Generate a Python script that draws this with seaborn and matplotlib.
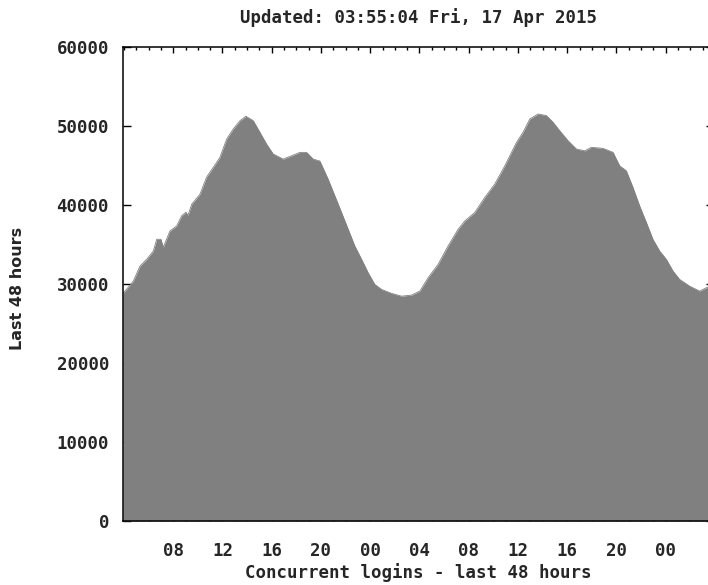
import numpy as np
import pandas as pd
import matplotlib
matplotlib.use("Agg")
import matplotlib.pyplot as plt
import seaborn as sns

# hours counted from midnight of the first day (window 03:55 -> 03:55, 48 h)
hours = [3.92, 4.08, 4.76, 5.30, 5.84, 6.38, 6.66, 7.00, 7.19, 7.73, 8.28, 8.68,
         9.03, 9.20, 9.50, 10.17, 10.71, 11.25, 11.79, 12.34, 12.87, 13.42, 13.90,
         14.50, 15.04, 15.58, 16.12, 16.93, 17.48, 18.29, 18.83, 19.37, 19.91,
         20.58, 21.13, 21.67, 22.21, 22.75, 23.30, 23.83, 24.37, 24.92, 25.73,
         26.54, 27.35, 28.03, 28.70, 29.51, 30.32, 31.14, 31.68, 32.49, 33.30,
         34.11, 34.93, 35.88, 36.41, 36.96, 37.63, 38.31, 38.85, 39.39, 40.07,
         40.75, 41.42, 41.96, 42.91, 43.72, 44.26, 44.80, 45.34, 45.88, 46.43,
         46.96, 47.51, 48.05, 48.59, 49.13, 49.94, 50.75, 51.30, 51.92]
logins = [28900, 29100, 30370, 32270, 33120, 34170, 35660, 35660, 34640, 36710,
          37350, 38620, 39090, 38700, 40100, 41370, 43530, 44760, 46030, 48350,
          49620, 50670, 51230, 50670, 49200, 47710, 46450, 45810, 46150, 46660,
          46660, 45810, 45560, 43270, 41150, 39050, 36930, 34810, 33120, 31430,
          29950, 29310, 28810, 28460, 28590, 29100, 30800, 32490, 34810, 36930,
          37980, 39050, 40950, 42640, 44960, 47930, 49200, 50890, 51520, 51310,
          50470, 49400, 48130, 47080, 46860, 47300, 47170, 46660, 44960, 44330,
          42220, 39890, 37780, 35660, 34170, 33120, 31640, 30580, 29730, 29100,
          29530, 29900]
tick_hours = [8, 12, 16, 20, 24, 28, 32, 36, 40, 44, 48]
tick_labels = ["08", "12", "16", "20", "00", "04", "08", "12", "16", "20", "00"]
y_ticks = [0, 10000, 20000, 30000, 40000, 50000, 60000]

df = pd.DataFrame({"hour": hours, "logins": logins})

sns.set_theme(style="ticks")
mono = "DejaVu Sans Mono"
plt.rcParams["font.family"] = [mono]

fig = plt.figure(figsize=(7.08, 5.85), dpi=100)
ax = fig.add_axes([123 / 708, 64 / 585, 591 / 708, 474 / 585])

sns.lineplot(data=df, x="hour", y="logins", ax=ax, color="#808080", linewidth=0.6)
ax.fill_between(df["hour"], df["logins"], 0, color="#808080", linewidth=0)

ax.set_xlim(3.92, 51.92)
ax.set_ylim(0, 60000)
ax.set_axisbelow(True)

ax.set_xticks(tick_hours)
ax.set_xticklabels(tick_labels)
ax.set_xticks(np.arange(4, 52, 1), minor=True)
ax.set_yticks(y_ticks)
ax.set_yticklabels([str(v) for v in y_ticks])

ax.tick_params(axis="x", which="major", direction="in", top=True, bottom=True,
               length=4.5, width=1, pad=15, labelsize=12.5, color="black")
ax.tick_params(axis="x", which="minor", direction="in", top=True, bottom=True,
               length=2.2, width=1, color="black")
ax.tick_params(axis="y", which="major", direction="in", left=True, right=True,
               length=5.5, width=1, pad=10, labelsize=12.5, color="black")
for lab in ax.get_xticklabels() + ax.get_yticklabels():
    lab.set_fontweight("bold")

for side in ["left", "top", "bottom", "right"]:
    ax.spines[side].set_visible(True)
    ax.spines[side].set_linewidth(1.1)
    ax.spines[side].set_color("black")

ax.set_xlabel("Concurrent logins - last 48 hours", fontsize=12.5, fontweight="bold")
ax.xaxis.set_label_coords(0.5, -0.088)
ax.set_ylabel("Last 48 hours", fontsize=11.5, family="DejaVu Sans", fontweight="bold")
ax.yaxis.set_label_coords(-0.165, 0.49)
ax.set_title("Updated: 03:55:04 Fri, 17 Apr 2015", fontsize=12.5,
             fontweight="bold", pad=17)

fig.savefig("out.png", dpi=100)
